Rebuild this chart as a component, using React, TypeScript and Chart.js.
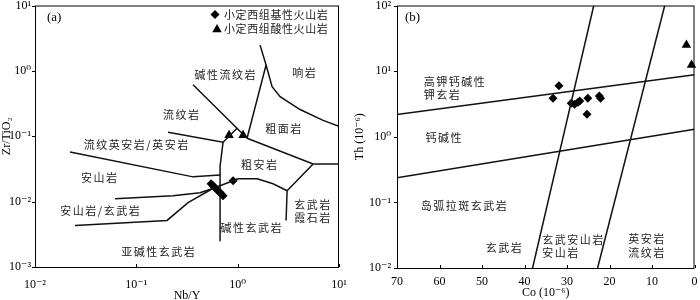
import React, { useEffect, useRef } from "react";
import { Chart, registerables } from "chart.js";

Chart.register(...registerables);

// ---------- Panel (a): Zr/TiO2 vs Nb/Y ----------
const nbYTicks = [0.01, 0.1, 1, 10];
const zrTiTicks = [0.001, 0.01, 0.1, 1, 10];

// 小定西组基性火山岩
const basicNbY = [0.5464, 0.5719, 0.5984, 0.6261, 0.6553, 0.6858, 0.7177, 0.9008];
const basicZrTi = [0.01874, 0.01747, 0.0163, 0.0152, 0.01417, 0.01322, 0.01233, 0.02081];
// 小定西组酸性火山岩
const acidNbY = [0.8224, 1.131];
const acidZrTi = [0.1035, 0.1035];

// field boundaries [Nb/Y, Zr/TiO2]
const bndA1 = [[0.3628, 0.6137], [1.238, 0.0932]];
const bndA2 = [[1.664, 2.477], [1.907, 1.233], [1.238, 0.0932]];
const bndA3 = [[1.907, 1.233], [2.186, 0.5724], [2.622, 0.4037], [4.13, 0.2565], [6.966, 0.1747], [10, 0.1417]];
const bndA4 = [[0.2055, 0.115], [0.7177, 0.0811], [0.9865, 0.1322]];
const bndA5 = [[1.238, 0.0932], [5.551, 0.03765], [10, 0.03765]];
const bndA6 = [[5.551, 0.03765], [3.075, 0.01468], [3.005, 0.005155]];
const bndA7 = [[0.7177, 0.0811], [0.6705, 0.0351], [0.6705, 0.002476]];
const bndA8 = [[0.02216, 0.05724], [0.3628, 0.02392], [0.6705, 0.02565]];
const bndA9 = [[0.06162, 0.0111], [0.2303, 0.01233], [0.4253, 0.01369], [0.559, 0.01574], [0.9008, 0.02081], [1.009, 0.02231], [1.554, 0.02231], [2.236, 0.01874], [3.075, 0.01468]];
const bndA10 = [[0.02482, 0.004329], [0.201, 0.005155], [0.3239, 0.009656], [0.4986, 0.01417], [0.559, 0.01574]];

// ---------- Panel (b): Th vs Co ----------
const coTicks = [0, 10, 20, 30, 40, 50, 60, 70];
const thTicks = [0.01, 0.1, 1, 10, 100];

const basicCo = [33.3, 31.9, 29.0, 28.2, 27.4, 27.0, 25.1, 25.3, 22.4, 22.1];
const basicTh = [3.85, 5.99, 3.23, 3.12, 3.35, 3.52, 3.85, 2.21, 4.19, 3.85];
const acidCo = [1.9, 0.7];
const acidTh = [24.9, 12.4];

const bndB1 = [[70, 2.19], [0, 8.77]];
const bndB2 = [[70, 0.237], [0, 1.3]];
const bndB3 = [[23.7, 100], [38.1, 0.01]];
const bndB4 = [[7.0, 100], [22.8, 0.01]];

const legendBasic = "小定西组基性火山岩";
const legendAcid = "小定西组酸性火山岩";

type Note = { text: string; x: number; y: number; align: "left" | "center" };

const notesA: Note[] = [
  { text: "碱性流纹岩", x: 0.751, y: 0.87, align: "center" },
  { text: "响岩", x: 4.52, y: 0.933, align: "center" },
  { text: "流纹岩", x: 0.276, y: 0.2154, align: "center" },
  { text: "粗面岩", x: 2.81, y: 0.1322, align: "center" },
  { text: "流纹英安岩/英安岩", x: 0.0993, y: 0.0731, align: "center" },
  { text: "安山岩", x: 0.0428, y: 0.0231, align: "center" },
  { text: "粗安岩", x: 1.627, y: 0.0364, align: "center" },
  { text: "安山岩/玄武岩", x: 0.0438, y: 0.00731, align: "center" },
  { text: "玄武岩", x: 5.43, y: 0.00901, align: "center" },
  { text: "霞石岩", x: 5.43, y: 0.00573, align: "center" },
  { text: "碱性玄武岩", x: 1.356, y: 0.00404, align: "center" },
  { text: "亚碱性玄武岩", x: 0.1637, y: 0.001687, align: "center" },
];

const notesB: Note[] = [
  { text: "高钾钙碱性", x: 63.7, y: 6.88, align: "left" },
  { text: "钾玄岩", x: 63.7, y: 4.38, align: "left" },
  { text: "钙碱性", x: 63.3, y: 0.949, align: "left" },
  { text: "岛弧拉斑玄武岩", x: 64.4, y: 0.0893, align: "left" },
  { text: "玄武岩", x: 49.1, y: 0.02005, align: "left" },
  { text: "玄武安山岩", x: 35.8, y: 0.02649, align: "left" },
  { text: "安山岩", x: 35.8, y: 0.01683, align: "left" },
  { text: "英安岩", x: 15.6, y: 0.02741, align: "left" },
  { text: "流纹岩", x: 15.6, y: 0.01683, align: "left" },
];

const SERIF = '"Liberation Serif", "DejaVu Serif", serif';
const CJK = '"Noto Sans CJK SC", sans-serif';

const SUP: Record<string, string> = { "-": "⁻", "0": "⁰", "1": "¹", "2": "²", "3": "³", "4": "⁴", "5": "⁵", "6": "⁶", "7": "⁷", "8": "⁸", "9": "⁹" };
const pow10 = (v: number) =>
  "10" + String(Math.round(Math.log10(v))).split("").map((c) => SUP[c]).join("");

const toPts = (arr: number[][]) => arr.map(([x, y]) => ({ x, y }));
const zipPts = (xs: number[], ys: number[]) => xs.map((x, i) => ({ x, y: ys[i] }));

const lineDs = (arr: number[][]) => ({
  data: toPts(arr),
  showLine: true,
  borderColor: "#111",
  borderWidth: 1.5,
  pointRadius: 0,
  fill: false,
  tension: 0,
});

const diamondDs = (pts: { x: number; y: number }[]) => ({
  data: pts,
  pointStyle: "rectRot",
  pointRadius: 4.5,
  backgroundColor: "#000",
  borderColor: "#000",
  borderWidth: 0,
  showLine: false,
  clip: false,
});

const triDs = (pts: { x: number; y: number }[]) => ({
  data: pts,
  pointStyle: "triangle",
  pointRadius: 5.5,
  backgroundColor: "#000",
  borderColor: "#000",
  borderWidth: 0,
  showLine: false,
  clip: false,
});

function drawDiamond(ctx: CanvasRenderingContext2D, x: number, y: number, r: number) {
  ctx.beginPath();
  ctx.moveTo(x - r, y);
  ctx.lineTo(x, y - r);
  ctx.lineTo(x + r, y);
  ctx.lineTo(x, y + r);
  ctx.closePath();
  ctx.fill();
}
function drawTri(ctx: CanvasRenderingContext2D, x: number, y: number, r: number) {
  ctx.beginPath();
  ctx.moveTo(x, y - r);
  ctx.lineTo(x + r * 0.866, y + r * 0.5);
  ctx.lineTo(x - r * 0.866, y + r * 0.5);
  ctx.closePath();
  ctx.fill();
}

function decorPlugin(notes: Note[], tag: string, tagDx: number, legend: boolean) {
  return {
    id: "decor",
    beforeDatasetsDraw(chart: any) {
      const { ctx, chartArea: a, scales } = chart;
      ctx.save();
      ctx.strokeStyle = "#000";
      ctx.lineWidth = 1;
      ctx.strokeRect(a.left + 0.5, a.top + 0.5, a.right - a.left - 1, a.bottom - a.top);
      ctx.beginPath();
      scales.x.ticks.forEach((t: any) => {
        const px = Math.round(scales.x.getPixelForValue(t.value)) + 0.5;
        ctx.moveTo(px, a.bottom);
        ctx.lineTo(px, a.bottom - 3);
      });
      scales.y.ticks.forEach((t: any) => {
        const py = Math.round(scales.y.getPixelForValue(t.value)) + 0.5;
        ctx.moveTo(a.left - 3, py);
        ctx.lineTo(a.left, py);
      });
      ctx.stroke();

      ctx.fillStyle = "#222";
      ctx.font = `11px ${CJK}`;
      ctx.textBaseline = "middle";
      (ctx as any).letterSpacing = "1.5px";
      notes.forEach((n) => {
        const px = scales.x.getPixelForValue(n.x);
        const py = scales.y.getPixelForValue(n.y);
        const w = ctx.measureText(n.text).width - 1.5;
        const left = n.align === "center" ? px - w / 2 : px;
        ctx.textAlign = "left";
        ctx.fillText(n.text, left, py);
      });
      ctx.restore();
    },
    afterDatasetsDraw(chart: any) {
      const { ctx, chartArea: a } = chart;
      ctx.save();
      ctx.fillStyle = "#000";
      ctx.textBaseline = "middle";
      ctx.textAlign = "left";
      ctx.font = `13px ${SERIF}`;
      ctx.fillText(tag, a.left + tagDx, a.top + 12);
      if (legend) {
        drawDiamond(ctx, a.left + 180, a.top + 9, 4.5);
        drawTri(ctx, a.left + 182, a.top + 24, 5.5);
        ctx.fillStyle = "#222";
        ctx.font = `11px ${CJK}`;
        (ctx as any).letterSpacing = "0.6px";
        ctx.fillText(legendBasic, a.left + 189, a.top + 9);
        ctx.fillText(legendAcid, a.left + 189, a.top + 23);
      }
      ctx.restore();
    },
  };
}

const tickFont = { family: SERIF, size: 12 };

function logAxis(min: number, max: number, values: number[], extra: any) {
  return {
    type: "logarithmic",
    min,
    max,
    afterBuildTicks: (s: any) => {
      s.ticks = values.map((v) => ({ value: v }));
    },
    grid: { display: false, drawTicks: false },
    border: { display: false },
    ...extra,
  };
}

function buildA(canvas: HTMLCanvasElement) {
  return new Chart(canvas, {
    type: "scatter",
    data: {
      datasets: [
        lineDs(bndA1), lineDs(bndA2), lineDs(bndA3), lineDs(bndA4), lineDs(bndA5),
        lineDs(bndA6), lineDs(bndA7), lineDs(bndA8), lineDs(bndA9), lineDs(bndA10),
        diamondDs(zipPts(basicNbY, basicZrTi)),
        triDs(zipPts(acidNbY, acidZrTi)),
      ] as any,
    },
    options: {
      responsive: false,
      animation: false,
      devicePixelRatio: 1,
      events: [],
      layout: { padding: { top: 3, right: 11, left: 0, bottom: 0 } },
      plugins: { legend: { display: false }, tooltip: { enabled: false } },
      scales: {
        x: logAxis(0.01, 10, nbYTicks, {
          ticks: { callback: (v: any) => pow10(Number(v)), padding: 11, maxRotation: 0, autoSkip: false, font: tickFont, color: "#000" },
          title: { display: true, text: "Nb/Y", padding: { top: 0, bottom: -3 }, font: tickFont, color: "#000" },
          afterFit: (s: any) => { s.height = 33; s.paddingLeft = 0; s.paddingRight = 0; },
        }),
        y: logAxis(0.001, 10, zrTiTicks, {
          ticks: { callback: (v: any) => pow10(Number(v)), padding: 4, autoSkip: false, font: tickFont, color: "#000" },
          title: { display: true, text: "Zr/TiO₂", padding: 0, font: tickFont, color: "#000" },
          afterFit: (s: any) => { s.width = 35; s.paddingTop = 0; s.paddingBottom = 0; },
        }),
      } as any,
    },
    plugins: [decorPlugin(notesA, "(a)", 12, true)],
  });
}

function buildB(canvas: HTMLCanvasElement) {
  return new Chart(canvas, {
    type: "scatter",
    data: {
      datasets: [
        lineDs(bndB1), lineDs(bndB2), lineDs(bndB3), lineDs(bndB4),
        diamondDs(zipPts(basicCo, basicTh)),
        triDs(zipPts(acidCo, acidTh)),
      ] as any,
    },
    options: {
      responsive: false,
      animation: false,
      devicePixelRatio: 1,
      events: [],
      layout: { padding: { top: 3, right: 2, left: 0, bottom: 0 } },
      plugins: { legend: { display: false }, tooltip: { enabled: false } },
      scales: {
        x: {
          type: "linear",
          min: 0,
          max: 70,
          reverse: true,
          afterBuildTicks: (s: any) => {
            s.ticks = coTicks.map((v) => ({ value: v }));
          },
          grid: { display: false, drawTicks: false },
          border: { display: false },
          ticks: { padding: 7, maxRotation: 0, autoSkip: false, font: tickFont, color: "#000" },
          title: { display: true, text: "Co (10⁻⁶)", padding: 0, font: tickFont, color: "#000" },
          afterFit: (s: any) => { s.height = 32; s.paddingLeft = 0; s.paddingRight = 0; },
        },
        y: logAxis(0.01, 100, thTicks, {
          ticks: { callback: (v: any) => pow10(Number(v)), padding: 6, autoSkip: false, font: tickFont, color: "#000" },
          title: { display: true, text: "Th (10⁻⁶)", padding: { top: 3, bottom: 0 }, font: tickFont, color: "#000" },
          afterFit: (s: any) => { s.width = 47; s.paddingTop = 0; s.paddingBottom = 0; },
        }),
      } as any,
    },
    plugins: [decorPlugin(notesB, "(b)", 8, false)],
  });
}

function Panel({ build, left }: { build: (c: HTMLCanvasElement) => Chart; left: number }) {
  const ref = useRef<HTMLCanvasElement | null>(null);
  useEffect(() => {
    if (!ref.current) return;
    const chart = build(ref.current);
    return () => chart.destroy();
  }, [build]);
  return (
    <div style={{ position: "absolute", left, top: 0, width: 350, height: 300 }}>
      <canvas ref={ref} width={350} height={300} style={{ display: "block", width: 350, height: 300 }} />
    </div>
  );
}

export default function App() {
  return (
    <div style={{ position: "fixed", left: 0, top: 0, width: 700, height: 300, background: "#fff", overflow: "hidden" }}>
      <Panel build={buildA} left={0} />
      <Panel build={buildB} left={350} />
    </div>
  );
}
